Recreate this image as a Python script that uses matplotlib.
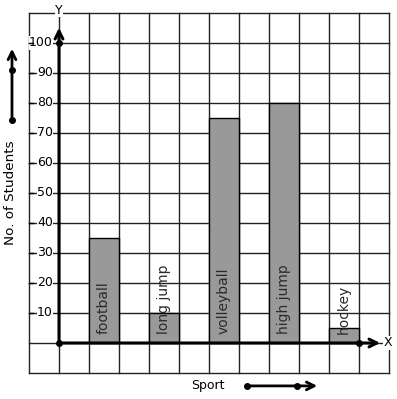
# -*- coding: utf-8 -*-
import matplotlib
matplotlib.use("Agg")
import matplotlib.pyplot as plt

# données
sports = ["football", "long jump", "volleyball", "high jump", "hockey"]
students = [35, 10, 75, 80, 5]
bar_pos = [1.5, 3.5, 5.5, 7.5, 9.5]
yticks = [10, 20, 30, 40, 50, 60, 70, 80, 90, 100]

fig = plt.figure(figsize=(3.97, 3.99), dpi=100)
ax = fig.add_axes([0, 0, 1, 1])
ax.set_xlim(-59 / 30, 338 / 30)
ax.set_ylim(-56 / 3, 343 / 3)
ax.axis("off")

# quadrillage
for gx in range(-1, 12):
    ax.plot([gx, gx], [-10, 110], color="#222222", lw=1, zorder=1)
for gy in range(-10, 111, 10):
    ax.plot([-1, 11], [gy, gy], color="#222222", lw=1, zorder=1)

# barres
ax.bar(bar_pos, students, width=1, color="#999999", edgecolor="black",
       linewidth=1, zorder=2)
for xp, name in zip(bar_pos, sports):
    ax.text(xp, 3, name, rotation=90, ha="center", va="bottom",
            fontsize=10, color="#2a2a2a", zorder=4)

# graduations
for t in yticks:
    ax.text(-0.2, t, str(t), ha="right", va="center", fontsize=9,
            zorder=3, bbox=dict(facecolor="white", edgecolor="none", pad=0.2))
    ax.plot([-1, -0.87], [t, t], color="black", lw=1, zorder=3.5)

# axes
ax.annotate("", xy=(0, 106), xytext=(0, 0),
            arrowprops=dict(arrowstyle="->", lw=2.2, color="black",
                            mutation_scale=14), zorder=5)
ax.annotate("", xy=(10.8, 0), xytext=(0, 0),
            arrowprops=dict(arrowstyle="->", lw=2.2, color="black",
                            mutation_scale=14), zorder=5)
ax.plot([0, 0, 10], [0, 100, 0], "ko", ms=4, zorder=6)
ax.text(10.97, 0, "X", ha="center", va="center", fontsize=9,
        bbox=dict(facecolor="white", edgecolor="none", pad=0.3), zorder=6)
ax.text(0, 111, "Y", ha="center", va="center", fontsize=9,
        bbox=dict(facecolor="white", edgecolor="none", pad=0.3), zorder=6)

# légendes des axes
ax.text(-1.6, 50, "No. of Students", rotation=90, ha="center", va="center",
        fontsize=9.7)
ax.annotate("", xy=(-1.567, 99), xytext=(-1.567, 74.3),
            arrowprops=dict(arrowstyle="->", lw=2, color="black",
                            mutation_scale=14))
ax.plot([-1.567, -1.567], [74.3, 91], "ko", ms=4)
ax.text(4.97, -14, "Sport", ha="center", va="center", fontsize=9)
ax.annotate("", xy=(8.7, -14.3), xytext=(6.27, -14.3),
            arrowprops=dict(arrowstyle="->", lw=2, color="black",
                            mutation_scale=14))
ax.plot([6.27, 7.93], [-14.3, -14.3], "ko", ms=4)

fig.savefig("out.png", dpi=100, facecolor="white")
